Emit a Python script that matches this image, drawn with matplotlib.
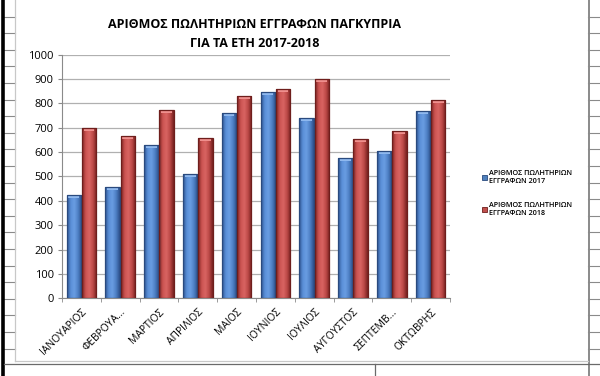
import numpy as np
import matplotlib as mpl
from matplotlib import pyplot as plt
from matplotlib.lines import Line2D
from matplotlib.colors import LinearSegmentedColormap

plt.rcParams['font.family'] = ['Open Sans', 'DejaVu Sans']

# Data
months = ['ΙΑΝΟΥΑΡΙΟΣ', 'ΦΕΒΡΟΥΑ...', 'ΜΑΡΤΙΟΣ', 'ΑΠΡΙΛΙΟΣ', 'ΜΑΙΟΣ',
          'ΙΟΥΝΙΟΣ', 'ΙΟΥΛΙΟΣ', 'ΑΥΓΟΥΣΤΟΣ', 'ΣΕΠΤΕΜΒ...', 'ΟΚΤΩΒΡΗΣ']
reg_2017 = [424, 458, 629, 509, 759, 848, 741, 574, 604, 770]
reg_2018 = [697, 667, 773, 657, 831, 859, 899, 655, 688, 812]
series_names = ['ΑΡΙΘΜΟΣ ΠΩΛΗΤΗΡΙΩΝ\nΕΓΓΡΑΦΩΝ 2017', 'ΑΡΙΘΜΟΣ ΠΩΛΗΤΗΡΙΩΝ\nΕΓΓΡΑΦΩΝ 2018']
y_ticks = list(range(0, 1001, 100))

W, H = 600, 376
fig = plt.figure(figsize=(W / 100, H / 100), dpi=100)
fig.patch.set_facecolor('white')


def px_line(x0, y0, x1, y1, color, lw):
    # spreadsheet decorations in pixel coordinates
    fig.add_artist(Line2D([x0 / W, x1 / W], [1 - y0 / H, 1 - y1 / H],
                          transform=fig.transFigure, color=color, lw=lw, zorder=0))


# Spreadsheet grid behind the chart
for k in range(1, 23):
    y = k * 16.6
    if y < 362:
        px_line(4, y, 15, y, '#8a8a8a', 0.8)
        px_line(588, y, 600, y, '#8a8a8a', 0.8)
px_line(2.5, 0, 2.5, H, 'black', 2.6)
px_line(588.5, 0, 588.5, H, '#8a8a8a', 1.4)
px_line(15, 0, 15, 361, '#c8c8c8', 0.9)
px_line(15, 361, 588, 361, '#c8c8c8', 0.9)
px_line(4, 363.5, 600, 363.5, '#6a6a6a', 0.9)
px_line(375, 363.5, 375, H, '#6a6a6a', 0.9)

ax = fig.add_axes([62 / W, 1 - 298.3 / H, (450 - 62) / W, (298.3 - 54.6) / H])
x = np.arange(len(months))
width = 0.37

cmaps = [
    LinearSegmentedColormap.from_list('b', ['#2f5592', '#5a8fd8', '#6a9de2', '#4d7fc4', '#2c4f88']),
    LinearSegmentedColormap.from_list('r', ['#7e2422', '#cc5452', '#d96462', '#bb4846', '#74201f']),
]
edge_cols = ['#2a4a7e', '#6e1e1c']
cap_cols = ['#8fb8ee', '#ef8f8d']

for i, (vals, off) in enumerate([(reg_2017, -width / 2 - 0.01), (reg_2018, width / 2 + 0.01)]):
    bars = ax.bar(x + off, vals, width, color='none', edgecolor=edge_cols[i],
                  linewidth=0.9, zorder=3)
    grad = np.linspace(0, 1, 64).reshape(1, -1)
    for b in bars:
        x0, w, h = b.get_x(), b.get_width(), b.get_height()
        im = ax.imshow(grad, cmap=cmaps[i], aspect='auto', extent=[x0, x0 + w, 0, h],
                       zorder=2, interpolation='bicubic')
        im.set_clip_path(b)
        ax.fill_between([x0 + w * 0.12, x0 + w * 0.88], h - 12, h - 2, color=cap_cols[i],
                        zorder=2.5, lw=0)

ax.set_xlim(-0.5, len(months) - 0.5)
ax.set_ylim(0, 1000)
ax.set_yticks(y_ticks)
ax.tick_params(axis='y', labelsize=8, length=3, color='#8a8a8a', pad=3)
ax.set_xticks(x)
ax.set_xticklabels(months, rotation=45, ha='right', va='top', rotation_mode='anchor', fontsize=7.5)
ax.tick_params(axis='x', length=0, pad=6)
ax.set_xticks(np.arange(-0.5, len(months)), minor=True)
ax.tick_params(axis='x', which='minor', length=3, color='#8a8a8a')
ax.grid(axis='y', color='#b0b0b0', lw=0.9, zorder=0)
ax.set_axisbelow(True)
for s in ['top', 'right']:
    ax.spines[s].set_visible(False)
ax.spines['left'].set_color('#8a8a8a')
ax.spines['bottom'].set_color('#8a8a8a')
ax.patch.set_alpha(0)

fig.text(255 / W, 1 - 34 / H, 'ΑΡΙΘΜΟΣ ΠΩΛΗΤΗΡΙΩΝ ΕΓΓΡΑΦΩΝ ΠΑΓΚΥΠΡΙΑ\nΓΙΑ ΤΑ ΕΤΗ 2017-2018',
         ha='center', va='center', fontsize=9, fontweight='bold', linespacing=1.6)

# Legend
handles = [mpl.patches.Patch(facecolor=c, edgecolor=e, lw=0.6)
           for c, e in zip(['#4f81bd', '#c0504d'], edge_cols)]
fig.legend(handles, series_names, loc='center left', bbox_to_anchor=(479 / W, 1 - 193.5 / H),
           frameon=False, handlelength=0.7, handleheight=0.7, handletextpad=0.25,
           labelspacing=2.3, borderaxespad=0, prop={'size': 5.2, 'weight': 'semibold'})

fig.savefig('out.png', dpi=100)
